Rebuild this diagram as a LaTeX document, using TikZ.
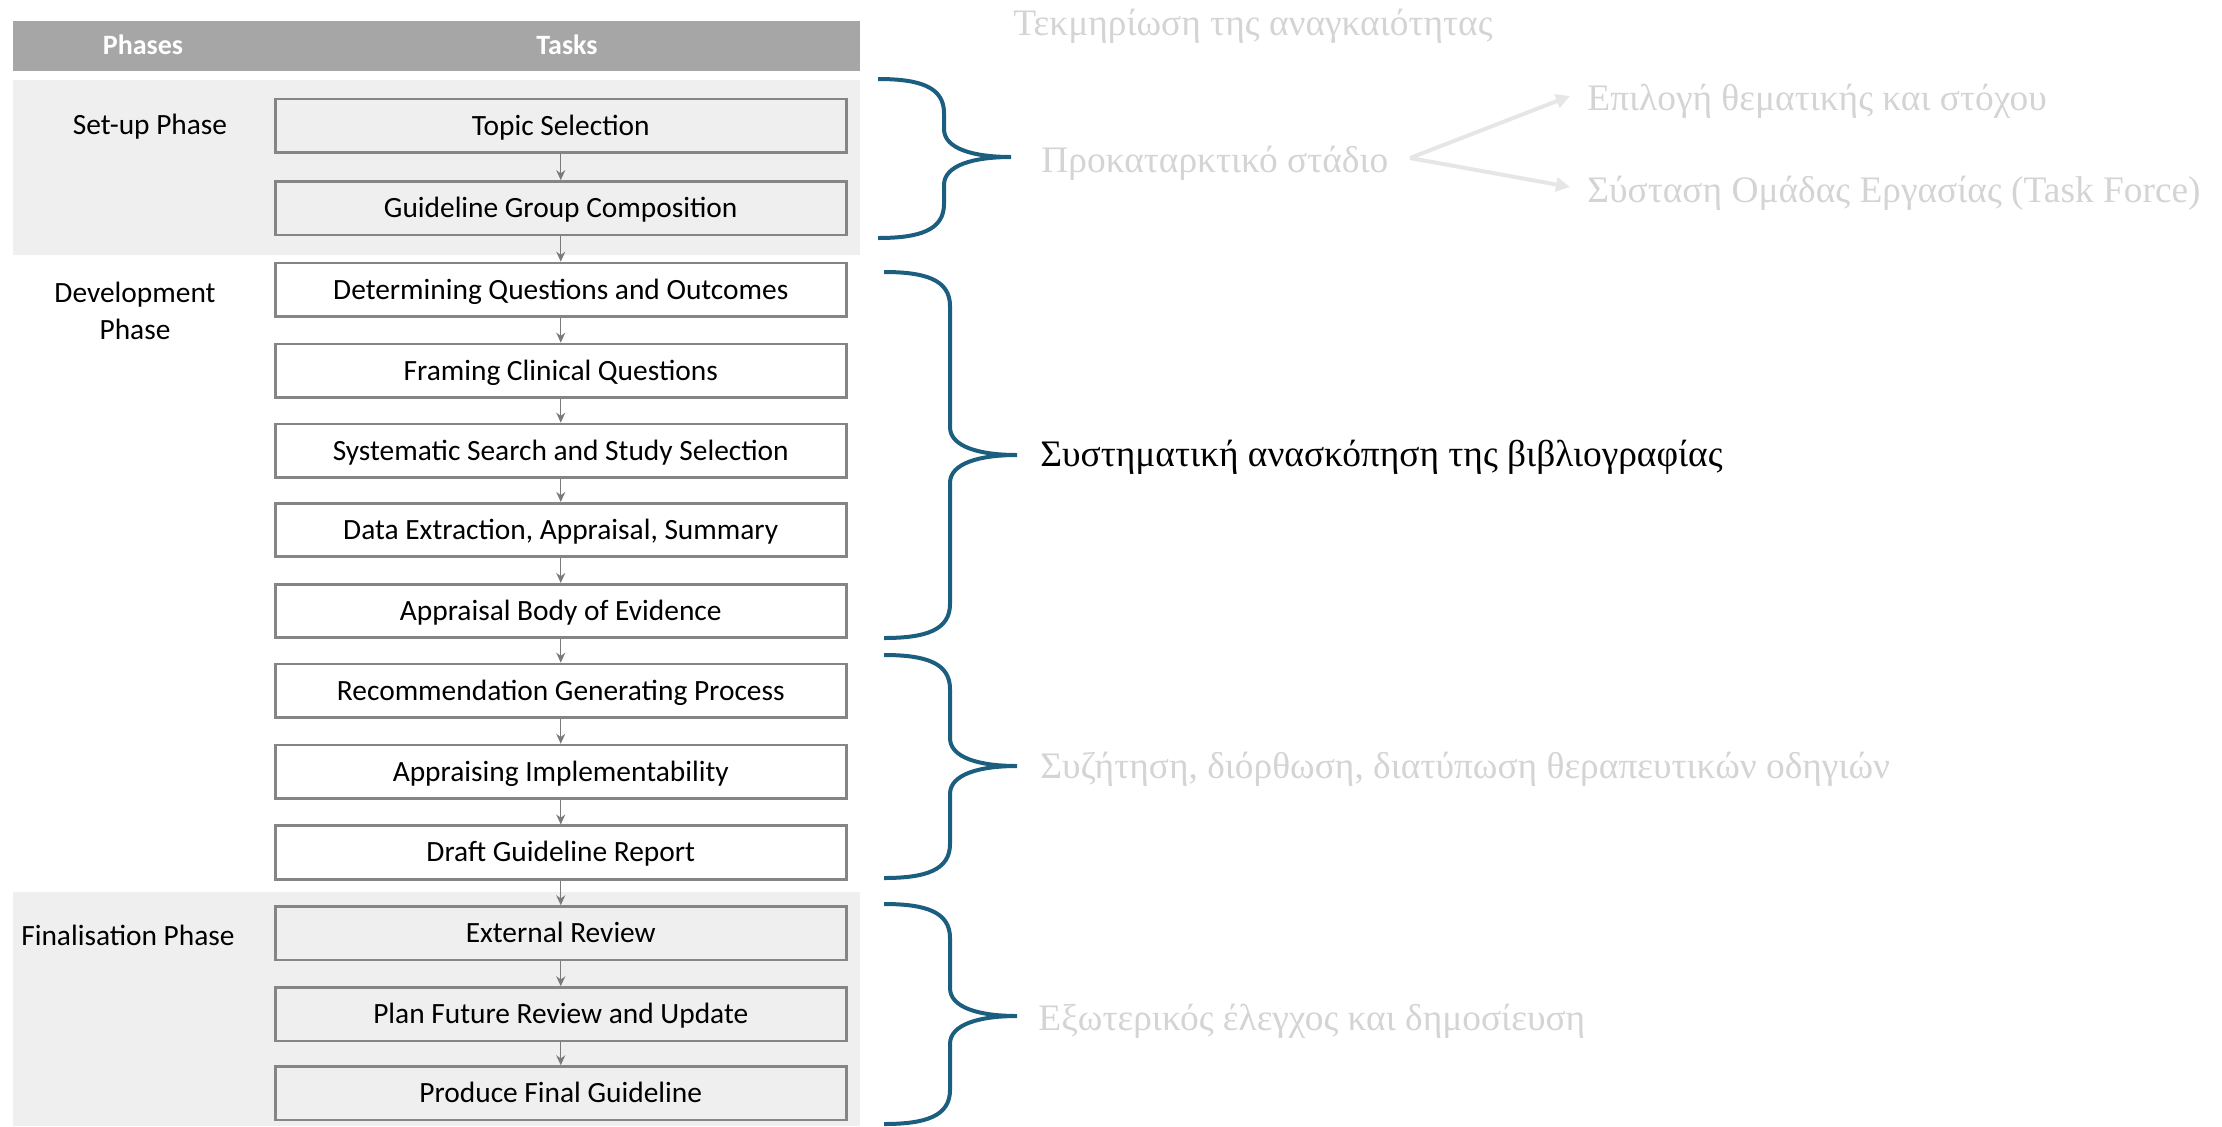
\documentclass[tikz,border=0pt]{standalone}
\usepackage{fontspec}
\setmainfont{Liberation Serif}
\newfontfamily\boxfont{Carlito}
\usetikzlibrary{arrows.meta}

\definecolor{headgray}{HTML}{A6A6A6}
\definecolor{bandgray}{HTML}{EFEFEF}
\definecolor{boxline}{HTML}{858585}
\definecolor{flowarrow}{HTML}{7A7A7A}
\definecolor{bracecol}{RGB}{27,94,128}
\definecolor{paletext}{HTML}{D4D4D4}
\definecolor{palearrow}{HTML}{E6E6E6}

% curly brace opening to the right: left x, top y, tip y, bottom y
\newcommand\rightcurly[4]{%
  \draw[bracepath] (#1,#2)
    .. controls (#1+42,#2) and (#1+66,#2+8) .. (#1+66,#2+34)
    -- (#1+66,#3-28)
    .. controls (#1+66,#3-8) and (#1+96,#3) .. (#1+133,#3)
    .. controls (#1+96,#3) and (#1+66,#3+8) .. (#1+66,#3+28)
    -- (#1+66,#4-34)
    .. controls (#1+66,#4-8) and (#1+42,#4) .. (#1,#4);}

\begin{document}
\begin{tikzpicture}[x=0.5pt,y=-0.5pt,
  taskbox/.style={draw=boxline, line width=1.3pt, minimum width=285.5pt,
    minimum height=26.75pt, inner sep=0pt, text height=9.4pt, text depth=0pt,
    font=\boxfont\fontsize{14.7}{17}\selectfont},
  phaselabel/.style={font=\boxfont\fontsize{14.7}{18.5}\selectfont,
    align=center, inner sep=0pt},
  headtext/.style={text=white, inner sep=0pt,
    font=\boxfont\bfseries\fontsize{14}{16}\selectfont},
  flow/.style={draw=flowarrow, line width=0.65pt,
    -{Stealth[length=5pt,width=4.5pt]}},
  bracepath/.style={draw=bracecol, line width=2pt},
  greek/.style={font=\fontsize{18.7}{22}\selectfont, text=paletext,
    anchor=base west, inner sep=0pt},
  forkarrow/.style={draw=palearrow, line width=2pt,
    -{Triangle[length=7pt,width=7pt]}}
]
\useasboundingbox (0,0) rectangle (2222,1126);

% header row and shaded phase bands
\fill[headgray] (12.6,20.7) rectangle (860,70.7);
\fill[bandgray] (12.6,80) rectangle (860,255);
\fill[bandgray] (12.6,892) rectangle (860,1126);
\node[headtext] (hphases) at (143,45) {Phases};
\node[headtext] (htasks) at (567,45) {Tasks};

% phase names
\node[phaselabel] (psetup) at (150,127) {Set-up Phase};
\node[phaselabel] (pdev) at (135,311) {Development\\Phase};
\node[phaselabel] (pfinal) at (128,935) {Finalisation Phase};

% task boxes
\node[taskbox] (t1)  at (560.75,125.8)  {Topic Selection};
\node[taskbox] (t2)  at (560.75,208.2)  {Guideline Group Composition};
\node[taskbox] (t3)  at (560.75,289.7)  {Determining Questions and Outcomes};
\node[taskbox] (t4)  at (560.75,370.7)  {Framing Clinical Questions};
\node[taskbox] (t5)  at (560.75,450.7)  {Systematic Search and Study Selection};
\node[taskbox] (t6)  at (560.75,530.0)  {Data Extraction, Appraisal, Summary};
\node[taskbox] (t7)  at (560.75,611.0)  {Appraisal Body of Evidence};
\node[taskbox] (t8)  at (560.75,690.7)  {Recommendation Generating Process};
\node[taskbox] (t9)  at (560.75,771.8)  {Appraising Implementability};
\node[taskbox] (t10) at (560.75,852.5)  {Draft Guideline Report};
\node[taskbox] (t11) at (560.75,933.3)  {External Review};
\node[taskbox] (t12) at (560.75,1014.3) {Plan Future Review and Update};
\node[taskbox] (t13) at (560.75,1093.3) {Produce Final Guideline};

\foreach \a/\b in {t1/t2,t2/t3,t3/t4,t4/t5,t5/t6,t6/t7,t7/t8,t8/t9,
                   t9/t10,t10/t11,t11/t12,t12/t13}
  \draw[flow] (\a) -- (\b);

% braces grouping the tasks
\rightcurly{878}{79}{157}{238}
\rightcurly{884}{272}{455}{638}
\rightcurly{884}{655}{766}{878}
\rightcurly{884}{904}{1016}{1124}

% Greek annotations
\node[greek] (gneed) at (1013,35) {Τεκμηρίωση της αναγκαιότητας};
\node[greek] (gprelim) at (1041,172) {Προκαταρκτικό στάδιο};
\node[greek] (gtopic) at (1587,110) {Επιλογή θεματικής και στόχου};
\node[greek] (gforce) at (1587,202) {Σύσταση Ομάδας Εργασίας (Task Force)};
\node[greek, text=black] (greview) at (1040,466) {Συστηματική ανασκόπηση της βιβλιογραφίας};
\node[greek] (gdiscuss) at (1040,778) {Συζήτηση, διόρθωση, διατύπωση θεραπευτικών οδηγιών};
\node[greek] (gexternal) at (1038,1030) {Εξωτερικός έλεγχος και δημοσίευση};

% split arrows from the preliminary stage
\coordinate (fork) at (1410,158);
\coordinate (topictip) at (1570,96);
\coordinate (forcetip) at (1570,187);
\draw[forkarrow] (fork) -- (topictip);
\draw[forkarrow] (fork) -- (forcetip);
\end{tikzpicture}
\end{document}
